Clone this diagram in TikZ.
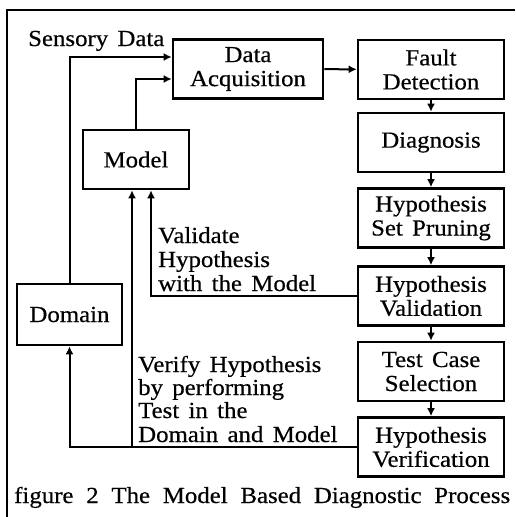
\documentclass[tikz,border=0pt]{standalone}
\usepackage{fontspec}
\setmainfont[FakeStretch=1.08,FakeBold=0.5,WordSpace=1.5]{Liberation Serif}
\usetikzlibrary{arrows.meta}

\begin{document}
\begin{tikzpicture}[x=1pt,y=-1pt,
  every node/.style={font=\fontsize{23}{24}\selectfont},
  box/.style={draw,line width=2.6pt,align=center,inner sep=0pt,
    minimum height=59pt,minimum width=#1},
  box/.default=146pt,
  arr/.style={draw,line width=2pt,-{Latex[length=8pt,width=8pt]}},
  lbl/.style={anchor=base west,inner sep=0pt}]
\useasboundingbox (0,0) rectangle (515,517);

% frame on the left and top
\draw[line width=1.2pt] (7,517) -- (7,10) -- (515,10);

% processing chain
\node[box=150pt] (da)   at (248,69)  {Data\\Acquisition};
\node[box]       (fd)   at (431,69.5) {Fault\\Detection};
\node[box]       (dg)   at (431,142.5) {Diagnosis};
\node[box]       (hsp)  at (431,218) {Hypothesis\\Set Pruning};
\node[box]       (hv)   at (431,296) {Hypothesis\\Validation};
\node[box]       (tcs)  at (431,371.5) {Test Case\\Selection};
\node[box]       (hver) at (431,447) {Hypothesis\\Verification};

% sources
\node[box=106pt] (mod) at (136,159.5) {Model};
\node[box=105pt,minimum height=61pt] (dom) at (69.5,314.5) {Domain};

% forward flow
\draw[arr] (da) -- (fd);
\draw[arr] (fd) -- (dg);
\draw[arr] (dg) -- (hsp);
\draw[arr] (hsp) -- (hv);
\draw[arr] (hv) -- (tcs);
\draw[arr] (tcs) -- (hver);

% inputs to data acquisition
\draw[arr] (dom.north) |- ([yshift=12pt]da.west);
\draw[arr] (mod.north) |- ([yshift=-10pt]da.west);

% feedback loops
\draw[arr] (hv.west) -| ([xshift=15pt]mod.south);
\draw[arr] (hver.west) -| (dom.south);
\coordinate (j) at ([xshift=-4pt]mod.south |- hver.west);
\draw[arr] (j) -- ([xshift=-4pt]mod.south);

% labels
\node[lbl] (sd) at (28,46) {Sensory Data};
\node[lbl] (v1) at (158,243) {Validate};
\node[lbl] (v2) at (158,267) {Hypothesis};
\node[lbl] (v3) at (158,291) {with the Model};
\node[lbl] (w1) at (138,372) {Verify Hypothesis};
\node[lbl] (w2) at (138,395) {by performing};
\node[lbl] (w3) at (138,418) {Test in the};
\node[lbl] (w4) at (138,442) {Domain and Model};

% caption
\node[lbl] (cap) at (14,503) {\makebox[496pt][s]{figure 2 The Model Based Diagnostic Process}};
\end{tikzpicture}
\end{document}
